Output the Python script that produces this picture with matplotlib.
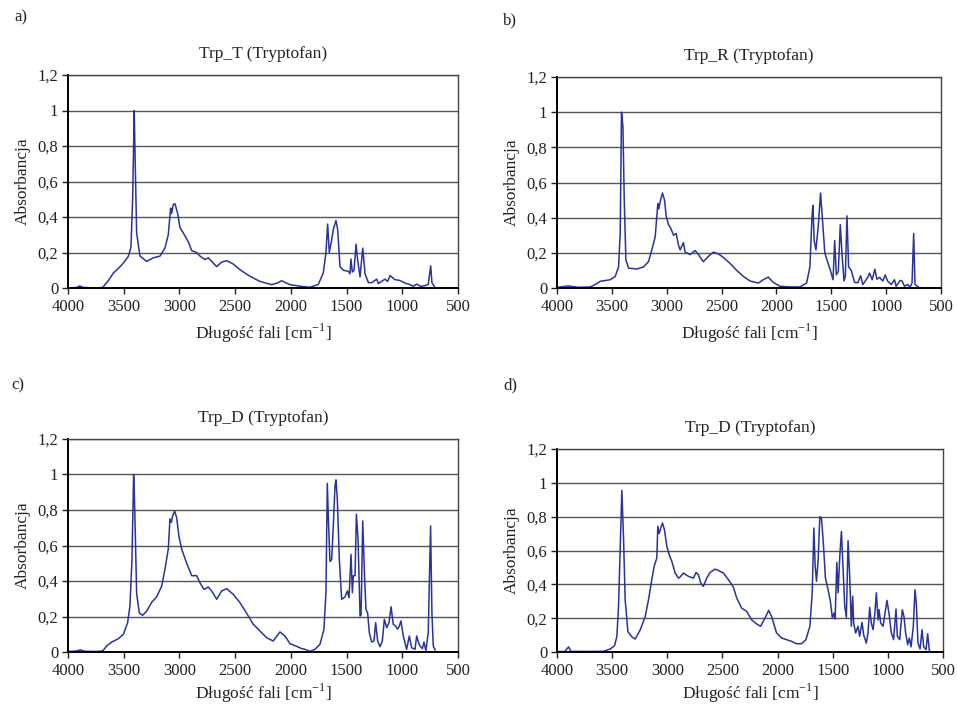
import matplotlib
matplotlib.use("Agg")
import matplotlib.pyplot as plt

plt.rcParams["font.family"] = ["Liberation Serif", "DejaVu Serif"]
plt.rcParams["mathtext.fontset"] = "custom"
plt.rcParams["mathtext.rm"] = "Liberation Serif"

# panel a) Trp_T
wn_a = [4000, 3920, 3895, 3870, 3760, 3689, 3640, 3593, 3540, 3504, 3459, 3435, 3420, 3410, 3406,
        3399, 3384, 3354, 3294, 3234, 3174, 3130, 3100, 3079, 3070, 3055, 3040, 3016, 2995, 2965,
        2920, 2890, 2845, 2816, 2771, 2741, 2711, 2666, 2621, 2576, 2517, 2457, 2367, 2277, 2173,
        2120, 2083, 2040, 2008, 1918, 1829, 1754, 1709, 1685, 1670, 1655, 1634, 1619, 1595, 1580,
        1559, 1529, 1484, 1469, 1461, 1448, 1433, 1415, 1401, 1379, 1355, 1334, 1304, 1275, 1229,
        1215, 1155, 1132, 1109, 1066, 1025, 976, 931, 901, 871, 835, 797, 767, 745, 734, 706]
abs_a = [0.0, 0.003, 0.012, 0.004, 0.0, 0.003, 0.04, 0.084, 0.115, 0.14, 0.178, 0.23, 0.5, 0.85, 1.0,
         0.78, 0.31, 0.18, 0.15, 0.17, 0.18, 0.225, 0.30, 0.45, 0.42, 0.47, 0.475, 0.42, 0.34, 0.31,
         0.26, 0.21, 0.20, 0.18, 0.16, 0.17, 0.15, 0.12, 0.146, 0.154, 0.135, 0.103, 0.066, 0.037, 0.019,
         0.028, 0.041, 0.028, 0.019, 0.01, 0.004, 0.02, 0.085, 0.20, 0.36, 0.20, 0.27, 0.33, 0.38, 0.33,
         0.12, 0.10, 0.094, 0.08, 0.163, 0.09, 0.10, 0.247, 0.16, 0.062, 0.225, 0.08, 0.03, 0.03, 0.05,
         0.025, 0.05, 0.037, 0.07, 0.047, 0.043, 0.028, 0.019, 0.01, 0.022, 0.009, 0.013, 0.02, 0.125, 0.03, 0.003]

# panel b) Trp_R
wn_b = [4000, 3940, 3900, 3860, 3800, 3697, 3651, 3606, 3515, 3469, 3439, 3424, 3412, 3405, 3399,
        3387, 3372, 3348, 3272, 3211, 3166, 3136, 3105, 3090, 3081, 3072, 3060, 3039, 3020, 3005,
        2984, 2963, 2938, 2914, 2893, 2878, 2848, 2832, 2787, 2741, 2711, 2666, 2620, 2575, 2529,
        2484, 2423, 2362, 2301, 2241, 2165, 2120, 2074, 2029, 1968, 1877, 1786, 1725, 1695, 1677,
        1668, 1656, 1640, 1619, 1598, 1583, 1559, 1529, 1508, 1484, 1469, 1454, 1436, 1418, 1403,
        1384, 1372, 1357, 1342, 1318, 1288, 1257, 1233, 1212, 1166, 1151, 1127, 1103, 1084, 1060,
        1030, 1009, 985, 954, 924, 909, 873, 855, 833, 803, 782, 764, 749, 737, 703]
abs_b = [0.003, 0.008, 0.012, 0.008, 0.004, 0.006, 0.02, 0.038, 0.047, 0.066, 0.12, 0.31, 1.0, 0.96, 0.915,
         0.5, 0.16, 0.113, 0.108, 0.12, 0.15, 0.217, 0.29, 0.41, 0.48, 0.45, 0.49, 0.54, 0.50, 0.41,
         0.36, 0.34, 0.30, 0.31, 0.245, 0.217, 0.258, 0.204, 0.19, 0.213, 0.19, 0.15, 0.18, 0.204, 0.194,
         0.174, 0.14, 0.10, 0.066, 0.04, 0.028, 0.047, 0.062, 0.032, 0.01, 0.006, 0.006, 0.028, 0.12, 0.39,
         0.47, 0.27, 0.217, 0.35, 0.54, 0.41, 0.20, 0.14, 0.10, 0.047, 0.27, 0.075, 0.094, 0.36, 0.2,
         0.04, 0.066, 0.41, 0.12, 0.10, 0.032, 0.03, 0.07, 0.02, 0.062, 0.085, 0.047, 0.107, 0.05, 0.06,
         0.04, 0.074, 0.038, 0.02, 0.047, 0.01, 0.043, 0.04, 0.01, 0.02, 0.006, 0.028, 0.31, 0.02, 0.004]

# panel c) Trp_D
wn_c = [4000, 3930, 3890, 3850, 3750, 3689, 3653, 3608, 3548, 3503, 3465, 3444, 3426, 3411, 3405,
        3399, 3384, 3360, 3330, 3294, 3249, 3205, 3160, 3130, 3100, 3085, 3073, 3061, 3043, 3025,
        3004, 2980, 2935, 2890, 2845, 2816, 2780, 2741, 2711, 2666, 2621, 2576, 2517, 2457, 2382,
        2337, 2277, 2217, 2158, 2098, 2053, 2008, 1933, 1903, 1873, 1829, 1784, 1739, 1703, 1685,
        1673, 1661, 1649, 1634, 1619, 1604, 1595, 1583, 1565, 1544, 1514, 1493, 1478, 1460, 1448,
        1439, 1424, 1412, 1397, 1379, 1370, 1355, 1340, 1326, 1311, 1296, 1275, 1254, 1239, 1221,
        1200, 1179, 1161, 1140, 1119, 1101, 1081, 1060, 1042, 1027, 1012, 991, 961, 937, 916,
        886, 871, 856, 841, 820, 805, 788, 767, 746, 734, 722, 705]
abs_c = [0.003, 0.005, 0.012, 0.004, 0.003, 0.006, 0.034, 0.056, 0.075, 0.10, 0.165, 0.26, 0.52, 1.0, 0.9,
         0.75, 0.33, 0.22, 0.207, 0.23, 0.28, 0.31, 0.37, 0.466, 0.58, 0.75, 0.73, 0.766, 0.794, 0.757,
         0.65, 0.58, 0.50, 0.43, 0.43, 0.39, 0.353, 0.366, 0.344, 0.297, 0.344, 0.357, 0.325, 0.278, 0.203,
         0.156, 0.118, 0.08, 0.062, 0.113, 0.09, 0.047, 0.028, 0.019, 0.015, 0.004, 0.015, 0.043, 0.128, 0.334,
         0.95, 0.71, 0.51, 0.52, 0.71, 0.935, 0.97, 0.86, 0.52, 0.297, 0.31, 0.344, 0.306, 0.55, 0.334,
         0.43, 0.43, 0.776, 0.635, 0.203, 0.207, 0.738, 0.447, 0.24, 0.22, 0.109, 0.056, 0.062, 0.165, 0.062,
         0.03, 0.062, 0.184, 0.137, 0.165, 0.255, 0.156, 0.146, 0.128, 0.146, 0.175, 0.09, 0.015, 0.09, 0.024,
         0.015, 0.09, 0.056, 0.034, 0.019, 0.056, 0.006, 0.109, 0.71, 0.22, 0.034, 0.011]

# panel d) Trp_D
wn_d = [4000, 3930, 3894, 3875, 3728, 3578, 3517, 3478, 3457, 3442, 3427, 3412, 3397, 3382, 3357,
        3321, 3291, 3246, 3200, 3170, 3140, 3119, 3095, 3086, 3074, 3059, 3044, 3026, 3004, 2983,
        2959, 2929, 2899, 2884, 2854, 2808, 2763, 2739, 2718, 2697, 2673, 2642, 2612, 2567, 2537,
        2492, 2446, 2401, 2371, 2326, 2280, 2235, 2190, 2154, 2114, 2081, 2054, 2009, 1964, 1918,
        1873, 1828, 1783, 1743, 1707, 1686, 1671, 1659, 1647, 1632, 1617, 1602, 1587, 1566, 1542,
        1521, 1503, 1488, 1478, 1463, 1451, 1436, 1421, 1406, 1391, 1376, 1361, 1346, 1331, 1319,
        1310, 1292, 1271, 1256, 1234, 1219, 1195, 1180, 1165, 1150, 1134, 1119, 1104, 1089, 1080,
        1065, 1044, 1029, 1008, 990, 969, 948, 926, 914, 893, 869, 854, 839, 820, 805,
        790, 769, 754, 742, 727, 708, 690, 675, 654, 639, 624, 609]
abs_d = [0.002, 0.003, 0.03, 0.004, 0.003, 0.004, 0.018, 0.037, 0.093, 0.27, 0.62, 0.955, 0.68, 0.31, 0.12,
         0.089, 0.077, 0.13, 0.21, 0.31, 0.43, 0.506, 0.556, 0.743, 0.70, 0.733, 0.763, 0.723, 0.625, 0.575,
         0.536, 0.467, 0.437, 0.443, 0.467, 0.447, 0.437, 0.47, 0.457, 0.408, 0.388, 0.437, 0.47, 0.49, 0.482,
         0.467, 0.428, 0.384, 0.32, 0.26, 0.24, 0.19, 0.166, 0.152, 0.20, 0.246, 0.21, 0.112, 0.083, 0.073,
         0.063, 0.049, 0.049, 0.073, 0.152, 0.35, 0.733, 0.506, 0.418, 0.546, 0.80, 0.79, 0.664, 0.437, 0.368,
         0.30, 0.20, 0.23, 0.195, 0.53, 0.35, 0.565, 0.713, 0.487, 0.27, 0.205, 0.658, 0.447, 0.152, 0.33,
         0.171, 0.112, 0.152, 0.093, 0.175, 0.10, 0.053, 0.112, 0.264, 0.171, 0.132, 0.22, 0.35, 0.19, 0.25,
         0.171, 0.152, 0.215, 0.305, 0.23, 0.116, 0.073, 0.254, 0.093, 0.073, 0.25, 0.21, 0.112, 0.043, 0.083,
         0.03, 0.152, 0.368, 0.29, 0.053, 0.018, 0.132, 0.03, 0.014, 0.108, 0.01, 0.0]

titles = ["Trp_T (Tryptofan)", "Trp_R (Tryptofan)", "Trp_D (Tryptofan)", "Trp_D (Tryptofan)"]
panel_tags = ["a)", "b)", "c)", "d)"]
x_ticks = [4000, 3500, 3000, 2500, 2000, 1500, 1000, 500]
y_ticks = [0, 0.2, 0.4, 0.6, 0.8, 1.0, 1.2]
y_tick_labels = ["0", "0,2", "0,4", "0,6", "0,8", "1", "1,2"]

fig = plt.figure(figsize=(9.57, 7.07), dpi=100)

# axes rectangles in figure fractions (left, bottom, width, height)
rects = [
    (68 / 957, 1 - 288 / 707, 390 / 957, 213 / 707),
    (557 / 957, 1 - 288 / 707, 384 / 957, 211 / 707),
    (68 / 957, 1 - 652 / 707, 390 / 957, 213 / 707),
    (557 / 957, 1 - 652 / 707, 386 / 957, 203 / 707),
]
tag_pos = [(14 / 957, 1 - 17 / 707), (503 / 957, 1 - 20 / 707),
           (11 / 957, 1 - 385 / 707), (503 / 957, 1 - 385 / 707)]
series = [(wn_a, abs_a), (wn_b, abs_b), (wn_c, abs_c), (wn_d, abs_d)]

for i in range(4):
    ax = fig.add_axes(rects[i])
    x, y = series[i]
    ax.plot(x, y, color="#2a339a", lw=1.1)
    ax.set_xlim(4000, 500)
    ax.set_ylim(0, 1.2)
    ax.set_xticks(x_ticks)
    ax.set_xticklabels([str(t) for t in x_ticks])
    ax.set_yticks(y_ticks)
    ax.set_yticklabels(y_tick_labels)
    ax.yaxis.grid(True, color="#555555", lw=1)
    ax.set_axisbelow(True)
    ax.tick_params(direction="out", length=4, width=1, labelsize=12, colors="#222222")
    ax.tick_params(axis="x", pad=4)
    ax.tick_params(axis="y", pad=3)
    for s in ["left", "bottom"]:
        ax.spines[s].set_color("black")
        ax.spines[s].set_linewidth(1.4)
    for s in ["top", "right"]:
        ax.spines[s].set_color("#444444")
        ax.spines[s].set_linewidth(1.0)
    ax.set_title(titles[i], fontsize=12.5, pad=12, color="#222222")
    ax.set_ylabel("Absorbancja", fontsize=12.5, color="#222222", labelpad=5)
    # bottom row sits close to the figure edge
    xpad = 5 if i < 2 else 2
    ax.set_xlabel(r"Długość fali [cm$^{\mathregular{-1}}$]", fontsize=12.5, color="#222222", labelpad=xpad)
    fig.text(tag_pos[i][0], tag_pos[i][1], panel_tags[i], fontsize=12, va="center", color="#222222")

fig.savefig("out.png", dpi=100)
